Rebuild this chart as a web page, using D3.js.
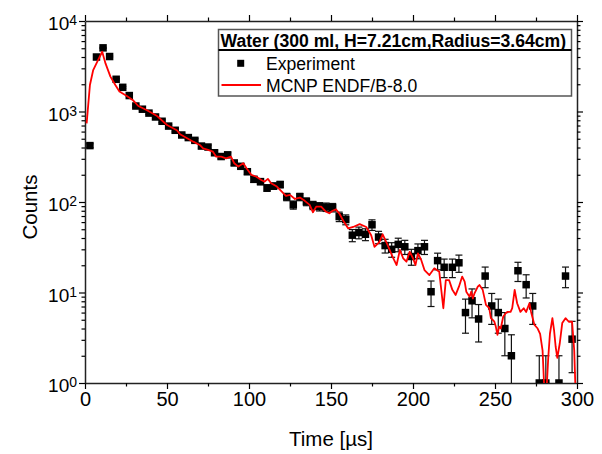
<!DOCTYPE html>
<html>
<head>
<meta charset="utf-8">
<title>Water die-away time spectrum</title>
<script src="https://d3js.org/d3.v7.min.js"></script>
<style>
	body { margin: 0; background: #fff; }
	text { font-family: "Liberation Sans", Arial, sans-serif; fill: #000; }
</style>
</head>
<body>
<div id="chart"></div>
<script>
	// experiment (4 us bins)
	var expTime = [3,7,11,15,19,23,27,31,35,39,43,47,51,55,59,63,67,71,75,79,83,87,91,95,99,103,107,111,115,119,
		123,127,131,135,139,143,147,151,155,159,163,167,171,175,179,183,187,191,195,199,203,207,211,215,219,224,228,
		232,236,240,244,248,252,256,260,264,269,273,277,281,289,293,297];
	var expCounts = [420,4000,5050,4050,2270,1850,1500,1150,1060,960,870,780,690,620,550,515,480,415,405,350,318,332,270,248,216,
		178,168,143,150,156,114,93,114,101,92,89,88,87,69,64,43,46,44,56,41,33,30,34,32,25,29,32,10.2,22.5,19,19,21.3,
		6.0,8.1,5.1,15.2,7.1,6.0,4.0,2.0,17.4,12.2,7.1,1,1,1,15.2,3.05];
	var expErr = [20.5,63,71,64,48,43,39,34,33,31,29.5,28,26,25,23.5,22.7,22,20.4,20,18.7,17.8,18.2,16.4,15.7,14.7,
		13.3,13,12,12.2,12.5,10.7,9.6,10.7,10,9.6,9.4,9.4,9.3,8.3,8,6.6,6.8,6.6,7.5,6.4,5.7,5.5,5.8,5.7,5,5.4,5.7,3.2,4.7,4.4,4.4,4.6,
		2.45,2.85,2.26,3.9,2.66,2.45,2,1.41,4.17,3.5,2.66,1,1,1,3.9,1.75];

	// MCNP ENDF/B-8.0 simulation
	var mcnpTime = [1,3,5,7.5,9.5,10.5,12.5,15.5,18.5,21,25.5,29.5,32.5,37.5,44,50,56,58,62,66,70,72,75,78,80,83,86,89,91,93.5,
		96.5,98.5,101.5,104.5,107.5,109.5,111.5,113.5,117,120,122.5,125,128,131,134,137,139,141,144,147,149,151,153,155,157.5,
		160.5,163.5,167.5,171.5,174.5,176.5,179.5,181.5,184.5,187.5,190,192,194,196,198,200,201.5,203,205,207,210,213,216,218.5,
		220,222,224,226,228,230,231.5,232.5,234.5,235.5,236.5,237.5,239.5,240.5,242.5,244.5,246.5,247.5,249.5,250.5,251.5,252.5,
		253.5,255,256.5,257.5,259.5,260.5,262,263.5,265.5,267.5,269,271,272,274,276,277.5,279,280,281,282.5,283.5,285,286,287,
		288,289.5,291,293,295,297,298.3,299.5];
	var mcnpCounts = [740,1960,2870,3550,4210,4580,3400,2430,1960,1660,1480,1320,1150,1040,890,710,620,560,510,464,427,392,376,360,317,317,304,317,268,246,
		268,236,199,190,175,168,180,161,148,130,117,120,108,112,103,93,77,89,89,78,75,80,83,75,62,
		51,53,57,53,43,32,36,44,33.5,24.9,20.1,29.5,23.9,21.9,28.2,23.9,20.1,27.1,22.9,17.7,15.6,18.5,17,6.7,
		13.7,13.7,10.7,9.4,11.6,15,13.2,10.2,9,10.2,8.6,9.8,11.6,12.1,10.7,7.3,6.7,5.2,4.8,4.2,3.4,4.2,
		4.0,5.4,5.9,6.1,6.1,6.7,10.7,7.6,6.1,6.7,6.1,7.6,6.1,4.4,4.0,3.5,2.3,0.9,0.6,1.95,3.5,5.2,3.85,2.5,
		1.9,2.75,4.6,5.2,4.75,4.75,2.3,0.5];

	var xTicks = [0,50,100,150,200,250,300];
	var xMinor = [25,75,125,175,225,275];
	var yTicks = [1,10,100,1000,10000];
	var yPow = ["0","1","2","3","4"];

	var legendTitle = "Water (300 ml, H=7.21cm,Radius=3.64cm)";
	var legendNames = ["Experiment","MCNP ENDF/B-8.0"];

	var W = 602, H = 454;
	var pLeft = 85, pRight = 577, pTop = 21, pBottom = 383;

	var x = d3.scaleLinear().domain([0,300]).range([pLeft,pRight]);
	var y = d3.scaleLog().domain([1,10000]).range([pBottom,pTop]);

	var svg = d3.select("#chart").append("svg")
		.attr("width",W).attr("height",H);

	svg.append("defs").append("clipPath").attr("id","plot-clip")
		.append("rect")
		.attr("x",pLeft).attr("y",pTop)
		.attr("width",pRight-pLeft).attr("height",pBottom-pTop);

	var yMinor = y.ticks().filter(function(v){ return yTicks.indexOf(v) < 0; });

	// axes: major + minor ticks, all outward
	function drawAxis(axisFn, pos, major, minor, scale, labels){
		var gMaj = svg.append("g").attr("transform",pos)
			.call(axisFn(scale).tickValues(major).tickSizeInner(6).tickSizeOuter(0)
				.tickFormat(labels ? d3.format("d") : "").tickPadding(3));
		gMaj.selectAll("text").attr("font-size",20).attr("font-family",null);
		var gMin = svg.append("g").attr("transform",pos)
			.call(axisFn(scale).tickValues(minor).tickSizeInner(3.5).tickSizeOuter(0).tickFormat(""));
		gMin.select(".domain").remove();
		[gMaj,gMin].forEach(function(g){
			g.selectAll("line").attr("stroke","#000").attr("stroke-width",1.2);
			g.select(".domain").attr("stroke","#222").attr("stroke-width",1.5);
		});
		return gMaj;
	}

	drawAxis(d3.axisBottom,"translate(0,"+pBottom+")",xTicks,xMinor,x,true);
	drawAxis(d3.axisTop,"translate(0,"+pTop+")",xTicks,xMinor,x,false);
	drawAxis(d3.axisLeft,"translate("+pLeft+",0)",yTicks,yMinor,y,false);
	drawAxis(d3.axisRight,"translate("+pRight+",0)",yTicks,yMinor,y,false);

	// y labels as 10^n
	var yLab = svg.append("g").selectAll("text")
		.data(yTicks).enter().append("text")
		.attr("x",77)
		.attr("y",function(d){ return y(d)+9; })
		.attr("text-anchor","end")
		.attr("font-size",19);
	yLab.append("tspan").text("10");
	yLab.append("tspan").attr("dy",-5).attr("font-size",14)
		.text(function(d,i){ return yPow[i]; });

	// axis titles
	svg.append("text")
		.attr("x",(pLeft+pRight)/2).attr("y",446)
		.attr("text-anchor","middle").attr("font-size",20.5)
		.text("Time [\u00b5s]");
	svg.append("text")
		.attr("transform","translate(37,"+((pTop+pBottom)/2+5)+") rotate(-90)")
		.attr("text-anchor","middle").attr("font-size",20.5)
		.text("Counts");

	var plot = svg.append("g").attr("clip-path","url(#plot-clip)");

	// error bars
	var cap = 3.5;
	expTime.forEach(function(t,i){
		var c = expCounts[i], e = expErr[i];
		var xi = x(t);
		var yHi = y(c+e);
		var yLo = (c-e) > 0 ? y(c-e) : pBottom+20;
		plot.append("line").attr("x1",xi).attr("x2",xi).attr("y1",yHi).attr("y2",yLo)
			.attr("stroke","#111").attr("stroke-width",1.2);
		plot.append("line").attr("x1",xi-cap).attr("x2",xi+cap).attr("y1",yHi).attr("y2",yHi)
			.attr("stroke","#111").attr("stroke-width",1.2);
		if ((c-e) > 0)
			plot.append("line").attr("x1",xi-cap).attr("x2",xi+cap).attr("y1",yLo).attr("y2",yLo)
				.attr("stroke","#111").attr("stroke-width",1.2);
	});

	var sq = 7.5;
	plot.selectAll("rect.exp")
		.data(expTime).enter().append("rect")
		.attr("class","exp")
		.attr("x",function(d){ return x(d)-sq/2; })
		.attr("y",function(d,i){ return y(expCounts[i])-sq/2; })
		.attr("width",sq).attr("height",sq)
		.attr("fill","#000");

	var line = d3.line()
		.x(function(d){ return x(d); })
		.y(function(d,i){ return y(mcnpCounts[i]); });

	plot.append("path")
		.datum(mcnpTime)
		.attr("d",line)
		.attr("fill","none")
		.attr("stroke","#ff0000")
		.attr("stroke-width",1.8)
		.attr("stroke-linejoin","round");

	// legend
	var lg = svg.append("g");
	lg.append("rect")
		.attr("x",218.5).attr("y",29.5).attr("width",353).attr("height",66.5)
		.attr("fill","#fff").attr("stroke","#555").attr("stroke-width",1.5);
	lg.append("text")
		.attr("x",220.5).attr("y",46.5)
		.attr("font-size",17.6).attr("font-weight","bold")
		.text(legendTitle);
	lg.append("line")
		.attr("x1",218.5).attr("x2",571.5).attr("y1",50).attr("y2",50)
		.attr("stroke","#000").attr("stroke-width",2);
	lg.append("rect")
		.attr("x",240.7-3.5).attr("y",63.3-3.5).attr("width",7).attr("height",7)
		.attr("fill","#000");
	lg.append("text")
		.attr("x",266).attr("y",69.5).attr("font-size",17.6)
		.text(legendNames[0]);
	lg.append("line")
		.attr("x1",221.5).attr("x2",261).attr("y1",85).attr("y2",85)
		.attr("stroke","#ff0000").attr("stroke-width",1.8);
	lg.append("text")
		.attr("x",266).attr("y",91.5).attr("font-size",17.6)
		.text(legendNames[1]);
</script>
</body>
</html>
